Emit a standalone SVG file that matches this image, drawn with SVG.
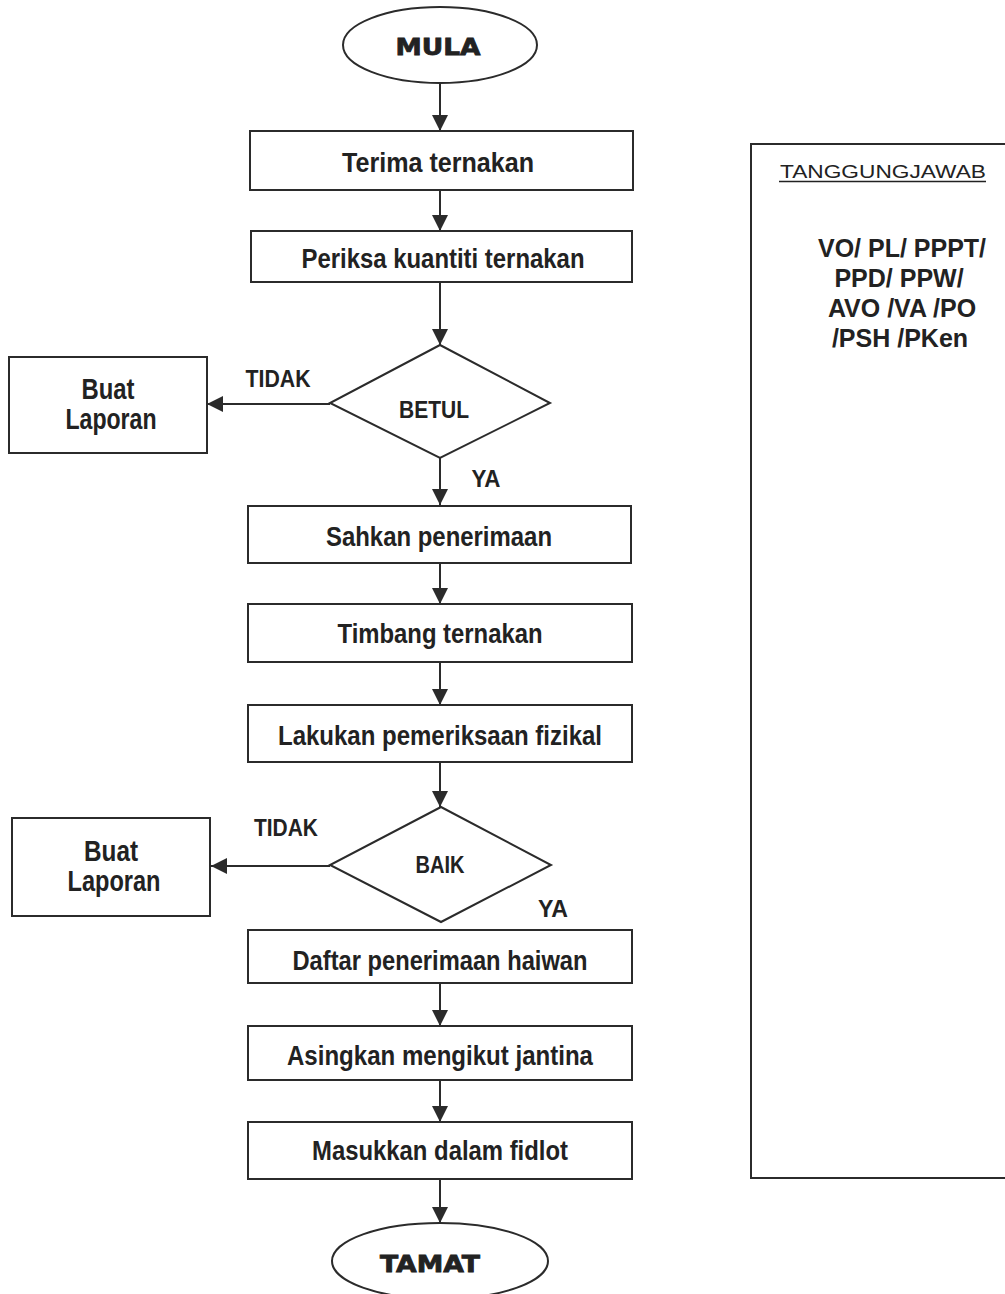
<svg xmlns="http://www.w3.org/2000/svg" width="1005" height="1294" viewBox="0 0 1005 1294">
<style>
.shape{fill:#fff;stroke:#2b2b2b;stroke-width:2}
.conn{stroke:#2b2b2b;stroke-width:2;fill:none}
.t{font-family:"Liberation Sans",Arial,sans-serif;font-weight:bold;fill:#222;text-anchor:middle}
.box{font-size:27px}
.big{font-size:29px}
.lbl{font-size:23px}
.term{font-family:"DejaVu Sans","Liberation Sans",sans-serif;font-weight:bold;font-size:23px;fill:#222;stroke:#222;stroke-width:0.8;text-anchor:middle}
.resp{font-family:"Liberation Sans",Arial,sans-serif;font-weight:bold;font-size:25px;fill:#222;text-anchor:middle}
.head{font-family:"Liberation Sans",Arial,sans-serif;font-size:19px;fill:#222;text-anchor:middle}
</style>
<defs>
<marker id="ah" markerUnits="userSpaceOnUse" markerWidth="16" markerHeight="16" refX="16" refY="8" orient="auto">
<path d="M0,0 L16,8 L0,16 z" fill="#2b2b2b"/>
</marker>
</defs>
<rect width="1005" height="1294" fill="#fff"/>

<g id="connectors">
<line class="conn" x1="440" y1="84" x2="440" y2="131" marker-end="url(#ah)"/>
<line class="conn" x1="440" y1="190" x2="440" y2="231" marker-end="url(#ah)"/>
<line class="conn" x1="440" y1="282" x2="440" y2="345" marker-end="url(#ah)"/>
<line class="conn" x1="330" y1="404" x2="207" y2="404" marker-end="url(#ah)"/>
<line class="conn" x1="440" y1="458" x2="440" y2="505" marker-end="url(#ah)"/>
<line class="conn" x1="440" y1="563" x2="440" y2="604" marker-end="url(#ah)"/>
<line class="conn" x1="440" y1="662" x2="440" y2="705" marker-end="url(#ah)"/>
<line class="conn" x1="440" y1="762" x2="440" y2="807" marker-end="url(#ah)"/>
<line class="conn" x1="330" y1="866" x2="211" y2="866" marker-end="url(#ah)"/>
<line class="conn" x1="440" y1="983" x2="440" y2="1026" marker-end="url(#ah)"/>
<line class="conn" x1="440" y1="1080" x2="440" y2="1122" marker-end="url(#ah)"/>
<line class="conn" x1="440" y1="1179" x2="440" y2="1223" marker-end="url(#ah)"/>
<text class="t lbl" x="278" y="387" textLength="65" lengthAdjust="spacingAndGlyphs">TIDAK</text>
<text class="t lbl" x="486" y="487" textLength="29" lengthAdjust="spacingAndGlyphs">YA</text>
<text class="t lbl" x="286" y="836" textLength="64" lengthAdjust="spacingAndGlyphs">TIDAK</text>
<text class="t lbl" x="553" y="917" textLength="30" lengthAdjust="spacingAndGlyphs">YA</text>
</g>

<g id="mula">
<ellipse class="shape" cx="440" cy="45" rx="97" ry="38"/>
<text class="term" x="438" y="55" textLength="85" lengthAdjust="spacingAndGlyphs">MULA</text>
</g>

<g id="terima">
<rect class="shape" x="250" y="131" width="383" height="59"/>
<text class="t box" x="438" y="172" textLength="192" lengthAdjust="spacingAndGlyphs">Terima ternakan</text>
</g>

<g id="periksa">
<rect class="shape" x="251" y="231" width="381" height="51"/>
<text class="t box" x="443" y="268" textLength="283" lengthAdjust="spacingAndGlyphs">Periksa kuantiti ternakan</text>
</g>

<g id="betul">
<polygon class="shape" points="440,345 550,403 440,458 330,403"/>
<text class="t lbl" x="434" y="418" textLength="70" lengthAdjust="spacingAndGlyphs">BETUL</text>
</g>

<g id="laporan1">
<rect class="shape" x="9" y="357" width="198" height="96"/>
<text class="t big" x="108" y="399" textLength="53" lengthAdjust="spacingAndGlyphs">Buat</text>
<text class="t big" x="111" y="429" textLength="91" lengthAdjust="spacingAndGlyphs">Laporan</text>
</g>

<g id="sahkan">
<rect class="shape" x="248" y="506" width="383" height="57"/>
<text class="t box" x="439" y="546" textLength="226" lengthAdjust="spacingAndGlyphs">Sahkan penerimaan</text>
</g>

<g id="timbang">
<rect class="shape" x="248" y="604" width="384" height="58"/>
<text class="t box" x="440" y="643" textLength="205" lengthAdjust="spacingAndGlyphs">Timbang ternakan</text>
</g>

<g id="lakukan">
<rect class="shape" x="248" y="705" width="384" height="57"/>
<text class="t box" x="440" y="745" textLength="324" lengthAdjust="spacingAndGlyphs">Lakukan pemeriksaan fizikal</text>
</g>

<g id="baik">
<polygon class="shape" points="441,807 551,865 441,922 330,865"/>
<text class="t lbl" x="440" y="873" textLength="49" lengthAdjust="spacingAndGlyphs">BAIK</text>
</g>

<g id="laporan2">
<rect class="shape" x="12" y="818" width="198" height="98"/>
<text class="t big" x="111" y="861" textLength="54" lengthAdjust="spacingAndGlyphs">Buat</text>
<text class="t big" x="114" y="891" textLength="93" lengthAdjust="spacingAndGlyphs">Laporan</text>
</g>

<g id="daftar">
<rect class="shape" x="248" y="930" width="384" height="53"/>
<text class="t box" x="440" y="970" textLength="295" lengthAdjust="spacingAndGlyphs">Daftar penerimaan haiwan</text>
</g>

<g id="asingkan">
<rect class="shape" x="248" y="1026" width="384" height="54"/>
<text class="t box" x="440" y="1065" textLength="306" lengthAdjust="spacingAndGlyphs">Asingkan mengikut jantina</text>
</g>

<g id="masukkan">
<rect class="shape" x="248" y="1122" width="384" height="57"/>
<text class="t box" x="440" y="1160" textLength="256" lengthAdjust="spacingAndGlyphs">Masukkan dalam fidlot</text>
</g>

<g id="tamat">
<ellipse class="shape" cx="440" cy="1261" rx="108" ry="38"/>
<text class="term" x="430" y="1272" textLength="100" lengthAdjust="spacingAndGlyphs">TAMAT</text>
</g>

<g id="tanggungjawab">
<path class="conn" d="M1010,144 H751 V1178 H1010"/>
<text class="head" x="883" y="178" textLength="206" lengthAdjust="spacingAndGlyphs">TANGGUNGJAWAB</text>
<line x1="779" y1="181.5" x2="986" y2="181.5" stroke="#222" stroke-width="1.3"/>
<text class="resp" x="902" y="257">VO/ PL/ PPPT/</text>
<text class="resp" x="899" y="287">PPD/ PPW/</text>
<text class="resp" x="902" y="317">AVO /VA /PO</text>
<text class="resp" x="900" y="347">/PSH /PKen</text>
</g>
</svg>
